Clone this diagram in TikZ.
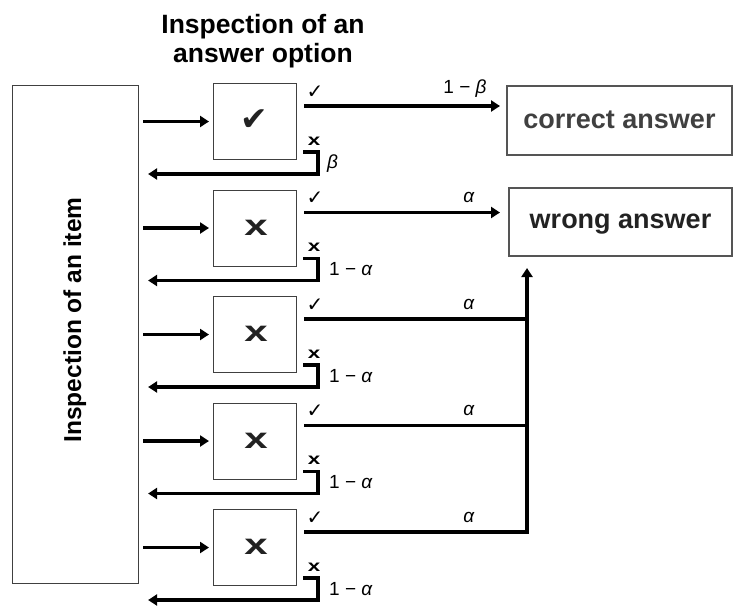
\documentclass[tikz,border=0pt]{standalone}
\usepackage{fontspec}
\setmainfont{Liberation Sans}
\newfontfamily\symfont{DejaVu Sans}
\usetikzlibrary{arrows.meta}

\definecolor{boxgray}{HTML}{404040}
\definecolor{ansgray}{HTML}{555555}
\definecolor{ink}{HTML}{222222}

\tikzset{
  conn/.style={line width=3.2pt},
  arrowed/.style={-{Triangle[length=9pt,width=11pt]}},
  optbox/.style={draw=boxgray, line width=1pt, minimum width=83pt, minimum height=76pt, inner sep=0pt},
  ansbox/.style={draw=ansgray, line width=2pt, inner sep=0pt, text depth=0pt,
    font=\fontsize{27}{27}\selectfont\bfseries},
  lab/.style={font=\fontsize{19}{19}\selectfont, inner sep=0pt},
  glyph/.style={inner sep=0pt},
}

\begin{document}
\begin{tikzpicture}[x=1pt,y=-1pt]
\useasboundingbox (0,0) rectangle (735,606);

% title above the option boxes
\node[font=\fontsize{26.5}{26.5}\selectfont\bfseries, anchor=base, inner sep=0pt] (title1) at (263,33) {Inspection of an};
\node[font=\fontsize{26.5}{26.5}\selectfont\bfseries, anchor=base, inner sep=0pt] (title2) at (263,62) {answer option};

% item box with rotated caption
\node[draw=boxgray, line width=1.2pt, minimum width=126pt, minimum height=498pt, inner sep=0pt] (item) at (75.5,334.5) {};
\node[font=\fontsize{24.5}{24.5}\selectfont\bfseries, rotate=90, anchor=base, inner sep=0pt] (itemlabel) at (81,320) {Inspection of an item};

% answer boxes
\node[ansbox, text height=16pt, minimum width=225pt, minimum height=69pt, text=boxgray] (correct) at (619.5,120.5) {correct answer};
\node[ansbox, text height=13pt, minimum width=223pt, minimum height=68pt, text=ink] (wrong) at (620.5,222) {wrong answer};

% collecting line for the remaining options
\coordinate (bus) at (527,0);

\foreach \i in {1,...,5} {
  \pgfmathsetmacro\ytop{83+106.5*(\i-1)}
  \node[optbox] (opt\i) at (255,\ytop+38.5) {};
  \coordinate (s\i) at (304,\ytop+23);
  \coordinate (h\i) at (303,\ytop+69);
  \coordinate (b\i) at (318,\ytop+91);
  % into the option box
  \draw[conn, arrowed, shorten <=4pt, shorten >=4pt] (item.east |- opt\i.west) -- (opt\i.west);
  % rejected: back to the item
  \draw[conn, arrowed, shorten >=9pt] (h\i) -| (b\i) -- (item.east |- b\i);
  % small marks
  \node[glyph, font=\fontsize{20}{20}\selectfont\symfont] (ok\i) at (315,\ytop+9) {✓};
  \node[glyph, font=\fontsize{16}{16}\selectfont\bfseries] (no\i) at (314,\ytop+58) {\scalebox{1.4}[1]{x}};
  \ifnum\i=1
    \node[glyph, font=\fontsize{33}{33}\selectfont\symfont, text=ink] (big\i) at (254,\ytop+37) {✔};
    \node[lab] (p\i) at (465,\ytop+6) {1 − \textit{β}};
    \node[lab, anchor=west] (q\i) at (327,\ytop+81) {\textit{β}};
  \else
    \node[glyph, font=\fontsize{29}{29}\selectfont\bfseries, text=ink] (big\i) at (256,\ytop+38) {\scalebox{1.45}[1]{x}};
    \node[lab] (p\i) at (469,\ytop+8) {\textit{α}};
    \node[lab, anchor=west] (q\i) at (329,\ytop+80) {1 − \textit{α}};
  \fi
}

% accepted: to the answer boxes
\draw[conn, arrowed, shorten >=6pt] (s1) -- (correct.west |- s1);
\draw[conn, arrowed, shorten >=8pt] (s2) -- (wrong.west |- s2);
\draw[conn] (s3) -- (bus |- s3);
\draw[conn] (s4) -- (bus |- s4);
\draw[conn, arrowed, shorten >=11pt] (s5) -- (bus |- s5) -- (bus |- wrong.south);
\end{tikzpicture}
\end{document}
